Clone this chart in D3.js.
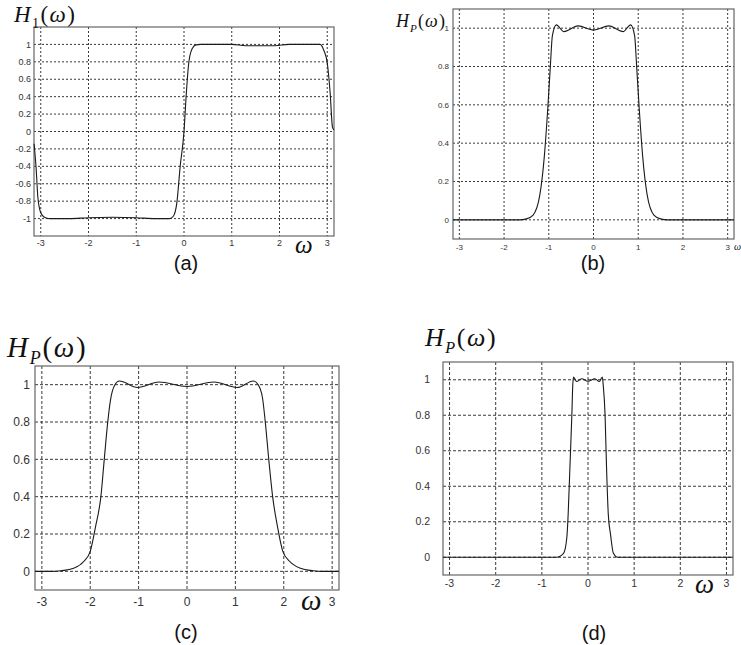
<!DOCTYPE html>
<html>
<head>
<meta charset="utf-8">
<script src="https://cdn.jsdelivr.net/npm/d3@7"></script>
<style>
  body { margin: 0; background: #fff; }
  svg { display: block; }
  .tick-label { font-family: "Liberation Sans", Arial, sans-serif; fill: #333; }
  .math { font-family: "Liberation Serif", "Times New Roman", serif; fill: #111; }
  .caption { font-family: "Liberation Sans", Arial, sans-serif; fill: #111; font-size: 20px; }
</style>
</head>
<body>
<script>
// frequency response samples [omega, H]
const curveA = [[-3.14,-0.14],[-3.10,-0.40],[-3.06,-0.76],[-3.02,-0.90],[-2.97,-0.96],[-2.9,-0.99],[-2.8,-1.0],
  [-2.4,-1.0],[-2.0,-0.99],[-1.5,-0.985],[-1.0,-0.99],[-0.6,-1.0],[-0.3,-1.0],[-0.22,-0.97],[-0.15,-0.82],
  [-0.08,-0.40],[0,0],[0.05,0.45],[0.10,0.79],[0.17,0.95],[0.25,0.995],[0.35,1.0],[1.0,1.0],[1.3,0.985],
  [1.9,0.985],[2.2,1.0],[2.85,1.0],[2.93,0.93],[3.0,0.79],[3.06,0.45],[3.11,0.05],[3.14,0.02]];

const curveB = [[-3.14,0],[-2.2,0],[-1.65,0],[-1.5,0.005],[-1.35,0.025],[-1.2,0.13],[-1.1,0.33],[-1.02,0.59],
  [-0.965,0.80],[-0.92,0.96],[-0.83,1.017],[-0.665,0.982],[-0.345,1.012],[0,0.99],[0.345,1.012],[0.665,0.982],
  [0.83,1.017],[0.92,0.96],[0.965,0.80],[1.02,0.59],[1.1,0.33],[1.2,0.13],[1.35,0.025],[1.5,0.005],[1.65,0],
  [2.2,0],[3.14,0]];

const curveC = [[-3.14,0],[-2.8,0],[-2.61,0.003],[-2.33,0.018],[-2.13,0.054],[-2.0,0.107],[-1.89,0.24],[-1.78,0.40],
  [-1.71,0.60],[-1.64,0.795],[-1.58,0.92],[-1.49,1.0],[-1.40,1.02],[-1.02,0.985],[-0.58,1.014],[0,0.99],
  [0.56,1.014],[1.04,0.985],[1.37,1.02],[1.47,1.0],[1.56,0.93],[1.62,0.795],[1.69,0.60],[1.77,0.40],[1.87,0.24],
  [1.98,0.107],[2.12,0.054],[2.33,0.018],[2.61,0.003],[2.8,0],[3.14,0]];

const curveD = [[-3.14,0],[-1.5,0],[-0.68,0],[-0.53,0.022],[-0.46,0.107],[-0.43,0.24],[-0.39,0.52],[-0.35,0.80],
  [-0.33,0.97],[-0.315,1.015],[-0.245,0.99],[-0.14,1.006],[0,0.992],[0.15,1.006],[0.245,0.99],[0.31,1.015],
  [0.33,0.97],[0.37,0.80],[0.40,0.52],[0.44,0.24],[0.49,0.125],[0.55,0.022],[0.64,0],[1.5,0],[3.14,0]];

const xTicks = [-3, -2, -1, 0, 1, 2, 3];
const yTicksA = [-1, -0.8, -0.6, -0.4, -0.2, 0, 0.2, 0.4, 0.6, 0.8, 1];
const yTicksP = [0, 0.2, 0.4, 0.6, 0.8, 1];

const svg = d3.select("body").append("svg")
  .attr("width", 741)
  .attr("height", 645);

function drawPanel(p) {
  const x = d3.scaleLinear().domain([-Math.PI, Math.PI]).range([p.left, p.right]);
  const y = d3.scaleLinear().domain(p.yDomain).range([p.bottom, p.top]);
  const g = svg.append("g");

  // grid
  g.selectAll(".vgrid").data(xTicks).enter().append("line")
    .attr("x1", d => x(d)).attr("x2", d => x(d))
    .attr("y1", p.top).attr("y2", p.bottom)
    .attr("stroke", "#222").attr("stroke-width", 0.9)
    .attr("stroke-dasharray", p.dash);
  g.selectAll(".hgrid").data(p.yTicks).enter().append("line")
    .attr("x1", p.left).attr("x2", p.right)
    .attr("y1", d => y(d)).attr("y2", d => y(d))
    .attr("stroke", "#222").attr("stroke-width", 0.9)
    .attr("stroke-dasharray", p.dash);

  // box
  g.append("rect")
    .attr("x", p.left).attr("y", p.top)
    .attr("width", p.right - p.left).attr("height", p.bottom - p.top)
    .attr("fill", "none").attr("stroke", "#666").attr("stroke-width", 1.2);

  // tick labels
  g.selectAll(".xl").data(xTicks).enter().append("text")
    .attr("class", "tick-label")
    .attr("x", d => x(d)).attr("y", p.xLabelY)
    .attr("text-anchor", "middle")
    .style("font-size", p.fs + "px")
    .text(d => d);
  g.selectAll(".yl").data(p.yTicks).enter().append("text")
    .attr("class", "tick-label")
    .attr("x", p.yLabelX).attr("y", d => y(d))
    .attr("dy", "0.35em")
    .attr("text-anchor", "end")
    .style("font-size", p.fs + "px")
    .text(d => d);

  // curve
  const line = d3.line()
    .x(d => x(d[0])).y(d => y(d[1]))
    .curve(d3.curveMonotoneX);
  g.append("path")
    .datum(p.data)
    .attr("d", line)
    .attr("fill", "none")
    .attr("stroke", "#1a1a1a")
    .attr("stroke-width", 1.1);

  // title H(omega)
  const t = g.append("text").attr("class", "math")
    .attr("x", p.titleX).attr("y", p.titleY)
    .style("font-size", p.titleSize + "px")
    .style("letter-spacing", (p.titleSize * 0.06) + "px");
  t.append("tspan").style("font-style", "italic").text("H");
  t.append("tspan").attr("dy", p.titleSize * 0.25)
    .style("font-size", (p.titleSize * 0.62) + "px")
    .style("font-style", p.sub === "P" ? "italic" : "normal")
    .text(p.sub);
  t.append("tspan").attr("dy", -p.titleSize * 0.25).text("(");
  t.append("tspan").style("font-style", "italic").text("ω");
  t.append("tspan").text(")");

  // omega axis label
  g.append("text").attr("class", "math")
    .attr("x", p.omegaX).attr("y", p.omegaY)
    .style("font-size", p.omegaSize + "px")
    .style("font-style", "italic")
    .text("ω");

  // caption
  g.append("text").attr("class", "caption")
    .attr("x", p.capX).attr("y", p.capY)
    .attr("text-anchor", "middle")
    .text(p.caption);
}

drawPanel({ data: curveA, left: 34, right: 334, top: 27, bottom: 236, yDomain: [-1.2, 1.2], yTicks: yTicksA,
  dash: "2,2", fs: 9, xLabelY: 246, yLabelX: 31, sub: "1", titleX: 14, titleY: 22, titleSize: 23,
  omegaX: 295, omegaY: 253, omegaSize: 25, caption: "(a)", capX: 186, capY: 270 });

drawPanel({ data: curveB, left: 453, right: 734, top: 9, bottom: 239, yDomain: [-0.1, 1.1], yTicks: yTicksP,
  dash: "2,2", fs: 8, xLabelY: 250, yLabelX: 449, sub: "P", titleX: 396, titleY: 27, titleSize: 18,
  omegaX: 734, omegaY: 250, omegaSize: 10, caption: "(b)", capX: 593, capY: 270 });

drawPanel({ data: curveC, left: 35, right: 339, top: 366, bottom: 590, yDomain: [-0.1, 1.1], yTicks: yTicksP,
  dash: "3,2", fs: 12, xLabelY: 606, yLabelX: 30, sub: "P", titleX: 7, titleY: 357, titleSize: 29,
  omegaX: 301, omegaY: 610, omegaSize: 29, caption: "(c)", capX: 186, capY: 639 });

drawPanel({ data: curveD, left: 443, right: 733, top: 362, bottom: 575, yDomain: [-0.1, 1.1], yTicks: yTicksP,
  dash: "3,2", fs: 10.5, xLabelY: 587, yLabelX: 430, sub: "P", titleX: 425, titleY: 346, titleSize: 26,
  omegaX: 695, omegaY: 593, omegaSize: 27, caption: "(d)", capX: 594, capY: 640 });
</script>
</body>
</html>
